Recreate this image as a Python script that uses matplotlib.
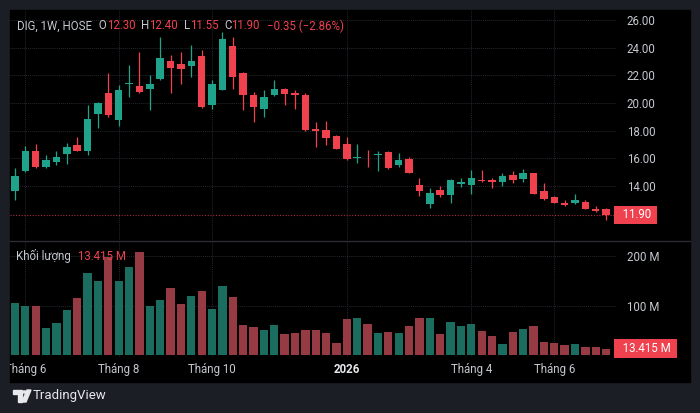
import matplotlib
matplotlib.use("Agg")
import matplotlib.pyplot as plt
import matplotlib.transforms as mtransforms
from matplotlib.patches import Rectangle, Polygon, Circle
import numpy as np

plt.rcParams['font.family'] = ['Roboto', 'DejaVu Sans']

# ---------------- data (weekly OHLC, DIG / HOSE) ----------------
opens = [13.60, 15.10, 16.55, 15.40, 15.70, 16.30, 16.95, 16.55, 19.20, 20.75,
         18.80, 21.35, 21.25, 21.00, 21.70, 23.00, 22.85, 22.70, 23.40, 19.85,
         20.95, 24.10, 22.15, 20.60, 19.55, 20.60, 21.00, 20.75, 20.60, 18.10,
         18.05, 17.60, 17.00, 16.00, 16.25, 16.25, 16.45, 15.50, 15.95, 14.05,
         12.70, 13.70, 13.35, 14.15, 14.10, 14.40, 14.40, 14.25, 14.80, 14.50,
         14.90, 13.65, 13.20, 12.80, 12.80, 12.85, 12.30, 12.30]
highs = [15.30, 16.90, 17.00, 16.20, 16.55, 17.10, 17.55, 19.85, 20.10, 22.15,
         21.30, 22.75, 23.70, 22.00, 24.80, 23.45, 23.65, 24.20, 23.80, 21.65,
         25.15, 24.75, 22.25, 20.80, 20.90, 21.65, 21.05, 20.90, 20.70, 18.65,
         18.70, 17.70, 17.55, 17.00, 16.60, 16.50, 16.50, 16.40, 16.10, 14.60,
         13.85, 14.00, 14.50, 14.60, 15.15, 15.15, 14.55, 14.90, 15.10, 15.20,
         14.95, 14.20, 13.30, 13.00, 13.45, 13.00, 12.55, 12.40]
lows = [13.00, 15.00, 15.30, 15.30, 15.50, 15.60, 16.50, 16.25, 18.20, 19.00,
        18.35, 20.45, 20.70, 19.50, 21.65, 20.75, 21.40, 21.85, 19.65, 19.55,
        20.90, 21.00, 19.50, 18.60, 19.00, 20.50, 19.85, 19.55, 18.00, 16.85,
        16.95, 16.70, 15.90, 15.65, 15.35, 15.10, 15.25, 15.35, 14.90, 13.25,
        12.40, 13.20, 12.75, 13.95, 13.45, 14.30, 13.85, 14.00, 14.20, 14.30,
        13.45, 13.00, 12.75, 12.55, 12.70, 12.30, 12.15, 11.55]
closes = [14.75, 16.50, 15.35, 15.90, 16.10, 16.80, 16.55, 18.85, 20.00, 19.10,
          20.90, 21.45, 20.80, 21.35, 23.25, 22.50, 22.45, 23.05, 19.70, 21.40,
          24.60, 21.90, 20.60, 19.70, 20.40, 21.00, 20.65, 20.55, 18.05, 18.00,
          17.50, 16.70, 15.95, 16.10, 16.20, 16.30, 15.30, 15.85, 14.90, 13.60,
          13.50, 13.35, 14.45, 14.25, 14.55, 14.35, 14.25, 14.70, 14.40, 14.90,
          13.45, 13.05, 12.80, 12.60, 13.00, 12.30, 12.20, 11.90]
volumes_m = [104.7, 100.0, 100.0, 54.0, 65.5, 90.5, 115.0, 166.0, 148.7, 197.0,
             150.0, 177.0, 208.0, 98.6, 110.8, 135.0, 104.0, 120.0, 129.0, 94.0,
             139.0, 118.0, 61.0, 56.0, 51.0, 61.0, 43.0, 45.0, 51.0, 51.0,
             44.0, 25.0, 73.0, 76.0, 63.0, 45.0, 47.0, 44.0, 58.0, 74.0,
             75.0, 42.0, 67.5, 59.0, 63.0, 49.0, 38.0, 22.0, 47.0, 52.0,
             59.0, 27.0, 24.0, 21.0, 23.0, 16.0, 16.0, 13.415]

time_tick_idx = [1, 10, 19, 32, 44, 52]
time_tick_labels = ["Tháng 6", "Tháng 8", "Tháng 10", "2026", "Tháng 4", "Tháng 6"]
price_ticks = [14, 16, 18, 20, 22, 24, 26]
volume_ticks = [100, 200]

# ---------------- styling ----------------
W, H = 700, 413
FRAME = '#1b1e25'
BG = '#000000'
TXT = '#c5c8cf'
RED = '#f0414f'
GREEN = '#1fa48b'
VRED = '#963a43'
VGREEN = '#1b6d60'
GRID = '#24272e'

def rect(x0, y0, x1, y1):
    return [x0 / W, 1 - y1 / H, (x1 - x0) / W, (y1 - y0) / H]

fig = plt.figure(figsize=(W / 100, H / 100), dpi=100, facecolor=FRAME)
fig.patches.append(Rectangle((10 / W, 1 - 382 / H), 680 / W, 372 / H,
                             transform=fig.transFigure, color=BG, zorder=-5))

n = len(opens)
x = np.arange(n)
o = np.array(opens); c = np.array(closes)
hi = np.array(highs); lo = np.array(lows)
up = c >= o

ax = fig.add_axes(rect(10, 10, 617, 240))
axv = fig.add_axes(rect(10, 241, 617, 357), sharex=ax)
for a in (ax, axv):
    a.set_facecolor('none')
    a.set_zorder(2)
    for s in a.spines.values():
        s.set_visible(False)

xl = (-0.48, 58.05)
ax.set_xlim(*xl)
ax.set_ylim(10.09, 26.72)

# grid
for t in price_ticks:
    ax.axhline(t, color=GRID, lw=0.7, ls=(0, (1, 1)), zorder=1)
for t in time_tick_idx:
    ax.axvline(t, color=GRID, lw=0.7, ls=(0, (1, 1)), zorder=1)
    axv.axvline(t, color=GRID, lw=0.7, ls=(0, (1, 1)), zorder=1)
for t in volume_ticks:
    axv.axhline(t, color=GRID, lw=0.7, ls=(0, (1, 1)), zorder=1)

# candles
cols = np.where(up, GREEN, RED)
ax.vlines(x, lo, hi, colors=cols, lw=0.9, zorder=3)
body_bottom = np.minimum(o, c)
body_h = np.maximum(np.abs(c - o), 0.06)
ax.bar(x, body_h, bottom=body_bottom, width=0.72, color=cols, zorder=4, linewidth=0)

# last price line + label
ax.axhline(closes[-1], color=RED, lw=0.8, ls=(0, (1, 1.5)), alpha=0.7, zorder=2)
ax.yaxis.tick_right()
ax.set_yticks(price_ticks)
ax.set_yticklabels([f"{t:.2f}" for t in price_ticks], color=TXT, fontsize=8.3)
ax.tick_params(axis='y', length=0, pad=7)
ax.tick_params(axis='x', length=0, labelbottom=False)

trans = mtransforms.blended_transform_factory(ax.transAxes, ax.transData)
ax.text(1.0, closes[-1], "  11.90 ", transform=trans, ha='left', va='center',
        color='white', fontsize=8.3,
        bbox=dict(boxstyle='square,pad=0.25', fc=RED, ec='none'), clip_on=False, zorder=10)

# header
hdr = ax.text(7 / 607, 1 - 16 / 230, "DIG, 1W, HOSE", transform=ax.transAxes,
              color=TXT, fontsize=8.3, va='center', ha='left', zorder=10)
pieces = [(" O", TXT, 3), ("12.30", RED, 0), ("H", TXT, 4), ("12.40", RED, 0),
          ("L", TXT, 4), ("11.55", RED, 0), ("C", TXT, 4), ("11.90", RED, 0),
          ("\u22120.35 (\u22122.86%)", RED, 5)]
prev = hdr
for txt, col, gap in pieces:
    prev = ax.annotate(txt, xy=(1, 0.5), xycoords=prev, xytext=(gap, 0),
                       textcoords='offset points', va='center', ha='left',
                       color=col, fontsize=8.3, zorder=10)

# volume
vcols = np.where(up, VGREEN, VRED)
axv.bar(x, volumes_m, width=0.8, color=vcols, linewidth=0, zorder=3)
axv.set_ylim(-3.4, 229.8)
axv.yaxis.tick_right()
axv.set_yticks(volume_ticks)
axv.set_yticklabels([f"{t} M" for t in volume_ticks], color=TXT, fontsize=8.3)
axv.tick_params(axis='y', length=0, pad=7)
axv.set_xticks(time_tick_idx)
axv.set_xticklabels(time_tick_labels, color=TXT, fontsize=8.3)
axv.tick_params(axis='x', length=0, pad=4.5)
clip_bb = mtransforms.TransformedBbox(
    mtransforms.Bbox.from_extents(10 / W, 1 - 382 / H, 690 / W, 1 - 10 / H),
    fig.transFigure)
for lbl in axv.get_xticklabels():
    lbl.set_clip_box(clip_bb)
    lbl.set_clip_on(True)
    if lbl.get_text() == "2026":
        lbl.set_fontweight('bold')
        lbl.set_color('#e6e8ec')
axv.set_xlim(*xl)

transv = mtransforms.blended_transform_factory(axv.transAxes, axv.transData)
axv.text(1.0, volumes_m[-1], "  13.415 M ", transform=transv, ha='left', va='center',
         color='white', fontsize=8.3,
         bbox=dict(boxstyle='square,pad=0.25', fc=RED, ec='none'), clip_on=False, zorder=10)

vl = axv.text(6 / 607, 1 - 15 / 116, "Khối lượng", transform=axv.transAxes,
              color=TXT, fontsize=8.3, va='center', ha='left', zorder=10)
axv.annotate("13.415 M", xy=(1, 0.5), xycoords=vl, xytext=(5, 0),
             textcoords='offset points', va='center', ha='left', color=RED,
             fontsize=8.3, zorder=10)

# pane separator
fig.add_artist(plt.Line2D([10 / W, 690 / W], [1 - 240.5 / H, 1 - 240.5 / H],
                          transform=fig.transFigure, color='#2a2d35', lw=1.0))

# TradingView logo + wordmark
def P(px, py):
    return (px / W, 1 - py / H)
fig.patches.append(Polygon([P(13, 390), P(22, 390), P(22, 402), P(18, 402), P(18, 394), P(13, 394)],
                           closed=True, transform=fig.transFigure, color='#e6e8ec'))
fig.patches.append(Circle(P(24.5, 392), 1.8 / W, transform=fig.transFigure, color='#e6e8ec'))
fig.patches.append(Polygon([P(27, 390), P(31, 390), P(26, 402), P(22, 402)],
                           closed=True, transform=fig.transFigure, color='#e6e8ec'))
fig.text(33 / W, 1 - 396 / H, "TradingView", color='#e6e8ec', fontsize=9.5,
         va='center', ha='left')

fig.savefig("out.png", dpi=100, facecolor=FRAME)
